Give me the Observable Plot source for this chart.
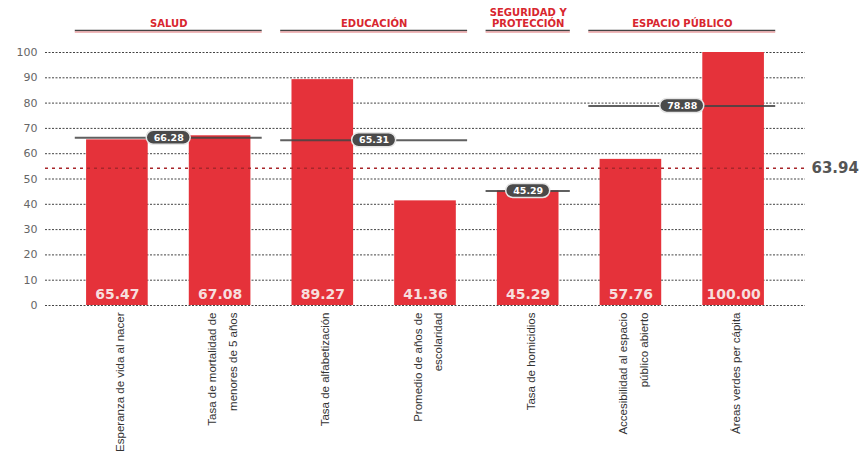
<!DOCTYPE html>
<html><head><meta charset="utf-8">
<script src="https://cdn.jsdelivr.net/npm/d3@7"></script>
<script src="https://cdn.jsdelivr.net/npm/@observablehq/plot@0.6"></script>
<style>body{margin:0;background:#fff;} svg{display:block;}</style>
</head><body><div id="chart"></div>
<script>
// ---- data ----
const indicators = [
  "Esperanza de vida al nacer",
  "Tasa de mortalidad de\nmenores de 5 años",
  "Tasa de alfabetización",
  "Promedio de años de\nescolaridad",
  "Tasa de homicidios",
  "Accesibilidad al espacio\npúblico abierto",
  "Áreas verdes per cápita"
];
const values = [65.47, 67.08, 89.27, 41.36, 45.29, 57.76, 100.00];
const groupOf = [0, 0, 1, 1, 2, 3, 3];
const groupNames = ["SALUD", "EDUCACIÓN", "SEGURIDAD Y\nPROTECCIÓN", "ESPACIO PÚBLICO"];
const groupAverages = [66.28, 65.31, 45.29, 78.88];
const overallLabel = "63.94";
const overallLineAt = 54.2;   // where the reference draws the overall line
const yTicks = [0, 10, 20, 30, 40, 50, 60, 70, 80, 90, 100];

// ---- tables ----
const bars = indicators.map((name, i) => ({i, name, value: values[i], label: values[i].toFixed(2)}));
const groups = groupNames.map((name, k) => {
  const idx = groupOf.map((g, i) => g === k ? i : null).filter(v => v !== null);
  const lo = d3.min(idx), hi = d3.max(idx);
  return {name, avg: groupAverages[k], lo, hi, mid: (lo + hi) / 2};
});

const half = 0.3, ext = 0.41;
const FONT = "DejaVu Sans";

const chart = Plot.plot({
  width: 862, height: 454,
  marginLeft: 45, marginRight: 57, marginTop: 52, marginBottom: 149,
  style: {fontFamily: FONT, background: "#fff", overflow: "visible"},
  x: {domain: [-0.7, 6.7], axis: null},
  y: {domain: [0, 100], axis: null},
  marks: [
    Plot.ruleY(yTicks, {stroke: "#444", strokeWidth: 1, strokeDasharray: "2,1.5"}),
    Plot.axisY({ticks: yTicks, tickSize: 0, tickPadding: 8, fontSize: 11, fill: "#666", label: null}),
    Plot.rectY(bars, {x1: d => d.i - half, x2: d => d.i + half, y: "value", fill: "#e5323a"}),
    Plot.ruleY([overallLineAt], {stroke: "#a8262b", strokeWidth: 1.5, strokeDasharray: "3,4"}),
    Plot.text([overallLineAt], {y: d => d, text: () => overallLabel, frameAnchor: "right", dx: 6, textAnchor: "start",
      fontSize: 15, fontWeight: "bold", fill: "#555", fontFamily: FONT}),
    Plot.ruleY(groups, {y: "avg", x1: d => d.lo - ext, x2: d => d.hi + ext, stroke: "#444", strokeOpacity: 0.85, strokeWidth: 2}),
    Plot.rect(groups, {x1: "mid", x2: "mid", y1: "avg", y2: "avg", insetLeft: -22, insetRight: -22, insetTop: -7, insetBottom: -7,
      rx: 7, fill: "#4a4a4a", stroke: "#e6e6e6", strokeWidth: 1.5}),
    Plot.text(groups, {x: "mid", y: "avg", text: d => d.avg.toFixed(2), fill: "#fff", fontWeight: "bold", fontSize: 9.5}),
    Plot.text(bars, {x: "i", y: () => 0, dy: -11, text: "label", fill: "#f7dede", fontSize: 14, fontWeight: "bold"}),
    Plot.text(bars, {x: "i", text: "name", frameAnchor: "bottom", dy: 7, rotate: -90, textAnchor: "end", lineAnchor: "middle",
      fontSize: 11.5, lineHeight: 1.8, fill: "#333", fontFamily: "Liberation Sans"}),
    Plot.text(groups, {x: "mid", text: "name", frameAnchor: "top", dy: -26, lineAnchor: "bottom", lineHeight: 1.1,
      fill: "#d8262e", fontWeight: "bold", fontSize: 10}),
    Plot.ruleY(groups, {y: () => 100, x1: d => d.lo - ext, x2: d => d.hi + ext, dy: -22, stroke: "#444", strokeWidth: 1.5}),
    Plot.ruleY(groups, {y: () => 100, x1: d => d.lo - ext, x2: d => d.hi + ext, dy: -20.5, stroke: "#e8a0a3", strokeWidth: 1.5})
  ]
});
document.getElementById("chart").appendChild(chart);
</script>
</body></html>
